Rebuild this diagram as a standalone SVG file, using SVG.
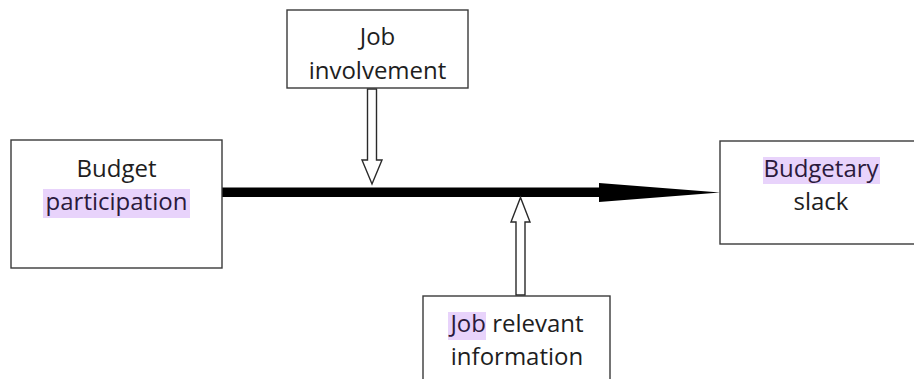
<svg xmlns="http://www.w3.org/2000/svg" width="914" height="379" viewBox="0 0 914 379">
<style>
.box{fill:#fff;stroke:#3a3a3a;stroke-width:1.4}
.t{font-family:"Open Sans","Liberation Sans",sans-serif;font-size:24px;fill:#1e1e1e;text-anchor:middle}
.hl{fill:#e8d3fb}
.ht{fill:#2b1a3c}
.hollow{fill:#fff;stroke:#2a2a2a;stroke-width:1.4;stroke-linejoin:miter}
</style>
<rect width="914" height="379" fill="#fff"/>
<g id="connectors">
<rect x="221" y="187.5" width="380" height="9.5" fill="#000"/>
<polygon points="599,183 720,192.5 599,202" fill="#000"/>
<polygon class="hollow" points="367.5,89 376.5,89 376.5,160 382,160 372,184 362,160 367.5,160"/>
<polygon class="hollow" points="516,295 525,295 525,222 530,222 520.5,197.5 511,222 516,222"/>
</g>
<g id="budget-participation">
<rect class="box" x="11" y="140" width="211" height="128"/>
<rect class="hl" x="43" y="189" width="147" height="29"/>
<text class="t" x="116.5" y="177">Budget</text>
<text class="t ht" x="116.5" y="210">participation</text>
</g>
<g id="job-involvement">
<rect class="box" x="287" y="10" width="181" height="78"/>
<text class="t" x="377.5" y="45">Job</text>
<text class="t" x="377.5" y="79">involvement</text>
</g>
<g id="job-relevant-information">
<rect class="box" x="423" y="296" width="187" height="100"/>
<rect class="hl" x="448" y="312" width="38" height="28"/>
<text class="t" x="517" y="332"><tspan class="ht">Job</tspan> relevant</text>
<text class="t" x="517" y="365">information</text>
</g>
<g id="budgetary-slack">
<rect class="box" x="720" y="141" width="210" height="103"/>
<rect class="hl" x="763" y="157" width="117" height="27"/>
<text class="t ht" x="821" y="177">Budgetary</text>
<text class="t" x="821" y="210">slack</text>
</g>
</svg>
